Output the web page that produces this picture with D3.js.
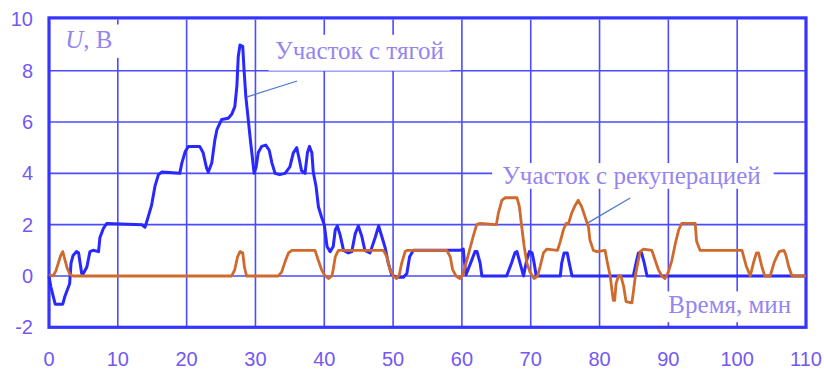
<!DOCTYPE html>
<html>
<head>
<meta charset="utf-8">
<script src="https://cdn.jsdelivr.net/npm/d3@7"></script>
<style>
  body { margin: 0; background: #fff; }
  svg { display: block; }
</style>
</head>
<body>
<svg id="chart" width="824" height="374"></svg>
<script>
// Ось X — время, мин; ось Y — напряжение U, В
var xTicks = [0, 10, 20, 30, 40, 50, 60, 70, 80, 90, 100, 110];
var yTicks = [-2, 0, 2, 4, 6, 8, 10];

// Участок с тягой (синяя), [t, U]
var traction = [
  [0, 0], [0.25, -0.4], [0.9, -1.1], [2.0, -1.1], [2.3, -0.8], [3.0, -0.3], [3.2, 0.5],
  [3.5, 0.8], [4.0, 0.95], [4.3, 0.9], [4.75, 0.1], [4.9, 0.05], [5.5, 0.35], [5.95, 0.95],
  [6.4, 1.0], [7.2, 0.95], [7.4, 1.5], [7.9, 1.85], [8.4, 2.05], [13.5, 2.0], [13.95, 1.9],
  [14.3, 2.2], [14.9, 2.75], [15.4, 3.5], [15.9, 3.95], [16.4, 4.05], [19.0, 4.0], [19.3, 4.4],
  [19.8, 4.85], [20.25, 5.05], [21.9, 5.05], [22.4, 4.8], [22.9, 4.2], [23.15, 4.05], [23.65, 4.4],
  [24.1, 5.3], [24.4, 5.7], [25.1, 6.1], [26.05, 6.15], [26.55, 6.3], [27.0, 6.6], [27.3, 7.4],
  [27.5, 8.55], [27.75, 9.0], [28.15, 8.95], [28.35, 8.0], [28.6, 7.0], [28.95, 6.1], [29.3, 5.2],
  [29.6, 4.5], [29.8, 4.0], [30.1, 4.25], [30.4, 4.8], [30.9, 5.05], [31.5, 5.1], [32.0, 4.9],
  [32.4, 4.4], [32.85, 4.0], [33.5, 3.95], [34.3, 4.0], [35.0, 4.25], [35.5, 4.8], [36.0, 5.0],
  [36.4, 4.5], [36.7, 4.1], [37.2, 4.0], [37.55, 4.8], [37.85, 5.05], [38.2, 4.8], [38.4, 4.05],
  [38.8, 3.5], [39.15, 2.7], [39.6, 2.3], [40.0, 2.0], [40.4, 1.15], [40.85, 0.95], [41.3, 1.15],
  [41.6, 1.8], [41.9, 1.95], [42.3, 1.6], [42.8, 1.0], [43.5, 0.9], [44.0, 0.95], [44.5, 1.65],
  [44.95, 1.95], [45.45, 1.55], [45.9, 1.0], [46.65, 0.9], [47.4, 1.5], [47.9, 1.95], [48.35, 1.55],
  [48.85, 1.1], [49.3, 0.5], [49.8, 0.05], [50.5, -0.05], [51.5, -0.05], [52.0, 0.1], [52.4, 0.75],
  [52.95, 1.0], [59.7, 1.0], [60.2, 1.05], [60.35, 0.6], [60.6, 0.05], [61.4, 0.6], [61.9, 0.95],
  [62.2, 0.95], [62.65, 0.5], [62.9, 0], [66.5, 0], [67.2, 0.5], [67.7, 0.9], [68.0, 0.95],
  [68.45, 0.5], [68.95, 0], [69.4, 0.6], [69.8, 0.95], [70.2, 0.9], [70.5, 0.5], [70.8, 0],
  [74.3, 0], [74.5, 0.5], [74.85, 0.9], [75.3, 0.9], [75.6, 0.5], [76.0, 0], [84.9, 0],
  [85.3, 0.5], [85.65, 0.9], [86.1, 0.9], [86.5, 0.5], [86.9, 0], [110, 0]
];

// Участок с рекуперацией (оранжевая), [t, U]
var recuperation = [
  [0, 0.05], [0.6, 0], [1.0, 0.2], [1.35, 0.5], [1.7, 0.8], [2.0, 0.95], [2.3, 0.65],
  [2.65, 0.3], [3.05, 0.05], [3.5, 0], [26.55, 0], [27.0, 0.25], [27.4, 0.75], [27.75, 0.95],
  [28.15, 0.9], [28.4, 0.35], [28.7, 0], [33.3, 0], [33.8, 0.15], [34.3, 0.55], [34.8, 0.9],
  [35.3, 1.0], [38.65, 1.0], [39.15, 0.6], [39.6, 0.25], [40.0, 0.05], [40.6, -0.1], [41.1, 0],
  [41.3, 0.25], [41.6, 0.75], [42.05, 1.0], [48.6, 1.0], [49.1, 0.75], [49.55, 0.25], [50.05, 0],
  [50.5, -0.1], [50.9, 0.05], [51.25, 0.5], [51.75, 0.95], [52.1, 1.0], [57.8, 1.0], [58.3, 0.75],
  [58.65, 0.25], [59.15, 0], [59.7, -0.1], [60.2, 0.1], [60.7, 0.6], [61.2, 1.1], [61.7, 1.6],
  [62.15, 2.0], [62.65, 2.05], [65.0, 2.0], [65.3, 2.45], [65.8, 2.95], [66.3, 3.05], [68.0, 3.05],
  [68.35, 2.7], [68.7, 1.9], [69.05, 1.15], [69.45, 0.5], [69.9, 0.15], [70.5, -0.1], [71.0, 0],
  [71.35, 0.35], [71.85, 0.9], [72.35, 1.05], [73.9, 1.0], [74.3, 1.35], [74.75, 1.8], [75.15, 2.05],
  [75.5, 2.05], [75.95, 2.45], [76.45, 2.75], [76.9, 2.95], [77.4, 2.7], [77.9, 2.3], [78.4, 1.9],
  [78.6, 1.4], [79.1, 1.0], [79.6, 0.95], [80.8, 1.0], [81.15, 0.5], [81.55, 0], [81.8, -0.55],
  [82.0, -0.95], [82.2, -0.95], [82.4, -0.3], [82.75, 0], [83.1, 0], [83.5, -0.4], [83.85, -1.0],
  [84.7, -1.05], [84.95, -0.55], [85.2, 0], [85.55, 0.5], [85.9, 0.95], [86.4, 1.05], [87.6, 1.0],
  [88.1, 0.6], [88.55, 0.25], [89.05, 0], [89.5, -0.1], [90.0, 0.15], [90.5, 0.6], [91.0, 1.25],
  [91.5, 1.8], [91.95, 2.05], [93.9, 2.05], [94.1, 1.35], [94.6, 1.0], [100.7, 1.0], [101.3, 0.4],
  [101.9, 0], [102.4, 0.55], [102.8, 0.9], [103.1, 0.9], [103.6, 0.35], [104.0, 0], [104.8, 0],
  [105.4, 0.55], [106.1, 0.95], [106.8, 1.0], [107.1, 0.8], [107.45, 0.4], [107.95, 0], [110, 0]
];

// подписи (в единицах данных)
var labels = [
  { text: "Участок с тягой", t: 32.85, u: 8.45, box: [31.9, 58.3, 8.0, 9.4] },
  { text: "Участок с рекуперацией", t: 65.85, u: 3.6, box: [64.4, 105.3, 3.4, 4.4] },
  { text: "Время, мин", t: 90.0, u: -1.45, box: [88.8, 109.3, -1.8, -0.6] }
];
var leaders = [
  [[28.8, 6.98], [36.05, 7.6]],
  [[78.3, 2.07], [84.45, 3.04]]
];

var svg = d3.select("#chart");
var x = d3.scaleLinear().domain([0, 110]).range([49, 806]);
var y = d3.scaleLinear().domain([-2, 10]).range([327.3, 19.4]);

var gridColor = "#4b4bff";
var tickColor = "#7458f2";
var noteColor = "#9585f0";

// сетка
svg.append("g")
  .selectAll("line")
  .data(xTicks.slice(1, -1))
  .enter().append("line")
  .attr("x1", function(d) { return x(d); })
  .attr("x2", function(d) { return x(d); })
  .attr("y1", y(10)).attr("y2", y(-2))
  .attr("stroke", gridColor).attr("stroke-width", 1.6);

svg.append("g")
  .selectAll("line")
  .data(yTicks.slice(1, -1))
  .enter().append("line")
  .attr("x1", x(0)).attr("x2", x(110))
  .attr("y1", function(d) { return y(d); })
  .attr("y2", function(d) { return y(d); })
  .attr("stroke", gridColor).attr("stroke-width", 1.6);

// белые подложки под подписями
svg.append("rect")
  .attr("x", x(0.9)).attr("y", y(9.8))
  .attr("width", x(10.6) - x(0.9)).attr("height", y(8.5) - y(9.8))
  .attr("fill", "#fff");

labels.forEach(function(l) {
  svg.append("rect")
    .attr("x", x(l.box[0])).attr("y", y(l.box[3]))
    .attr("width", x(l.box[1]) - x(l.box[0]))
    .attr("height", y(l.box[2]) - y(l.box[3]))
    .attr("fill", "#fff");
});

// рамка
svg.append("rect")
  .attr("x", x(0)).attr("y", y(10) - 1.5)
  .attr("width", x(110) - x(0)).attr("height", y(-2) - y(10) + 1.5)
  .attr("fill", "none")
  .attr("stroke", "#3535ff").attr("stroke-width", 3.2);

// подписи осей
svg.append("g")
  .selectAll("text")
  .data(xTicks)
  .enter().append("text")
  .attr("x", function(d) { return x(d); })
  .attr("y", 366)
  .attr("text-anchor", "middle")
  .attr("font-family", "'Liberation Sans', sans-serif")
  .attr("font-size", 20)
  .attr("fill", tickColor)
  .text(function(d) { return d; });

svg.append("g")
  .selectAll("text")
  .data(yTicks)
  .enter().append("text")
  .attr("x", 33)
  .attr("y", function(d) { return y(d); })
  .attr("dy", "0.35em")
  .attr("text-anchor", "end")
  .attr("font-family", "'Liberation Sans', sans-serif")
  .attr("font-size", 20)
  .attr("fill", tickColor)
  .text(function(d) { return d; });

// U, В
var ulab = svg.append("text")
  .attr("x", x(2.35)).attr("y", 48)
  .attr("font-family", "'Liberation Serif', serif")
  .attr("font-size", 25)
  .attr("fill", noteColor);
ulab.append("tspan").attr("font-style", "italic").text("U");
ulab.append("tspan").text(", В");

labels.forEach(function(l) {
  svg.append("text")
    .attr("x", x(l.t)).attr("y", y(l.u))
    .attr("font-family", "'Liberation Serif', serif")
    .attr("font-size", 25)
    .attr("fill", noteColor)
    .text(l.text);
});

// выноски
leaders.forEach(function(p) {
  svg.append("line")
    .attr("x1", x(p[0][0])).attr("y1", y(p[0][1]))
    .attr("x2", x(p[1][0])).attr("y2", y(p[1][1]))
    .attr("stroke", "#4a78d0").attr("stroke-width", 1.2);
});

// кривые
var line = d3.line()
  .x(function(d) { return x(d[0]); })
  .y(function(d) { return y(d[1]); });

svg.append("path")
  .datum(traction)
  .attr("d", line)
  .attr("fill", "none")
  .attr("stroke", "#2828ff")
  .attr("stroke-width", 3)
  .attr("stroke-linejoin", "round");

svg.append("path")
  .datum(recuperation)
  .attr("d", line)
  .attr("fill", "none")
  .attr("stroke", "#cf6a2c")
  .attr("stroke-width", 2.8)
  .attr("stroke-linejoin", "round");
</script>
</body>
</html>
